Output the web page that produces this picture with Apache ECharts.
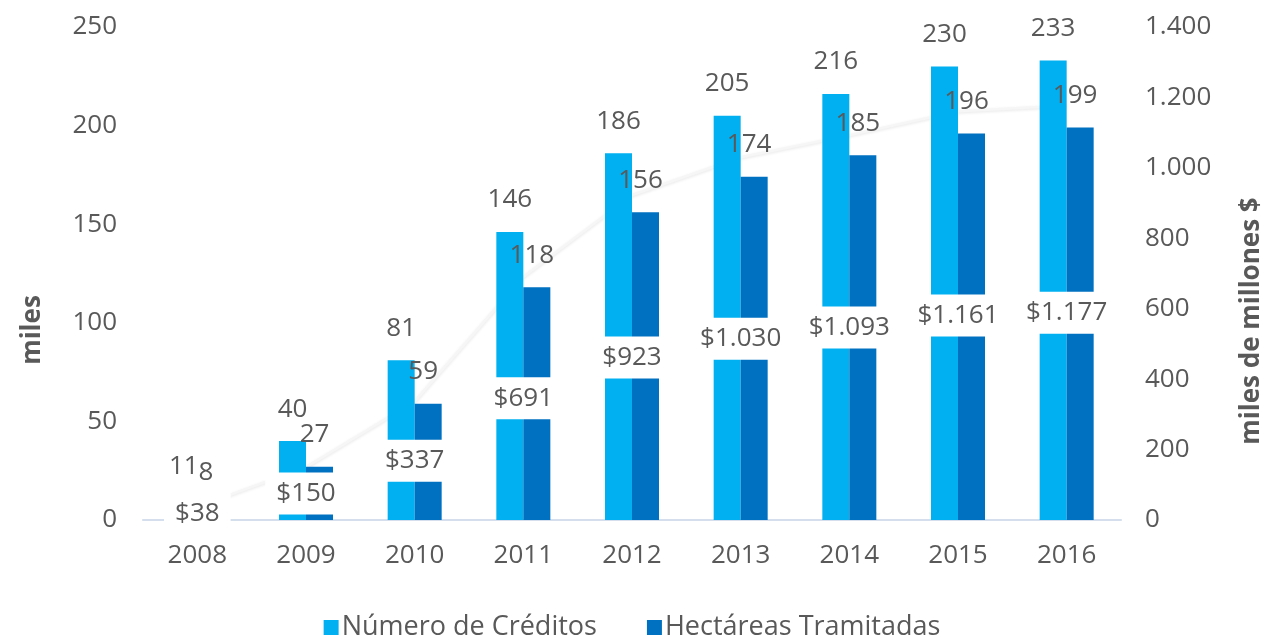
<!DOCTYPE html>
<html>
<head>
<meta charset="utf-8">
<script src="https://cdn.jsdelivr.net/npm/echarts@6/dist/echarts.min.js"></script>
<style>
html,body{margin:0;padding:0;background:#fff;}
#c{width:1264px;height:641px;}
</style>
</head>
<body>
<div id="c"></div>
<script>
const categories = ['2008','2009','2010','2011','2012','2013','2014','2015','2016'];
const creditos = [11, 40, 81, 146, 186, 205, 216, 230, 233];
const hectareas = [8, 27, 59, 118, 156, 174, 185, 196, 199];
const montos = [38, 150, 337, 691, 923, 1030, 1093, 1161, 1177];
const leftTicks = [0, 50, 100, 150, 200, 250];
const rightTicks = [0, 200, 400, 600, 800, 1000, 1200, 1400];

const FONT = '"Open Sans", "Noto Sans", sans-serif';
const TXT = '#595959';
const FS = 26;
function fmtThousands(v){
  return String(v).replace(/\B(?=(\d{3})+(?!\d))/g, '.');
}

const chart = echarts.init(document.getElementById('c'));
chart.setOption({
  animation: false,
  textStyle: {fontFamily: FONT},
  grid: {left: 143, right: 143, top: 27, bottom: 121, containLabel: false},
  legend: {
    top: 609, left: 'center',
    itemWidth: 15, itemHeight: 15, itemGap: 50,
    icon: 'rect',
    textStyle: {fontSize: 27, color: TXT, fontFamily: FONT, padding: [0,0,0,-2]},
    data: ['Número de Créditos', 'Hectáreas Tramitadas']
  },
  xAxis: [{
    type: 'category', data: categories,
    axisLine: {show: true, lineStyle: {color: '#D5DEEC', width: 2}},
    axisTick: {show: false},
    axisLabel: {fontSize: FS, color: TXT, margin: 23, fontFamily: FONT}
  }, {
    type: 'category', data: categories, show: false
  }],
  yAxis: [{
    type: 'value', min: leftTicks[0], max: leftTicks[leftTicks.length-1], interval: 50,
    splitLine: {show: false}, axisLine: {show: false}, axisTick: {show: false},
    axisLabel: {fontSize: FS, color: TXT, margin: 26, fontFamily: FONT}
  }, {
    type: 'value', min: rightTicks[0], max: rightTicks[rightTicks.length-1], interval: 200,
    splitLine: {show: false}, axisLine: {show: false}, axisTick: {show: false},
    axisLabel: {fontSize: FS, color: TXT, margin: 24, fontFamily: FONT,
      formatter: v => fmtThousands(v)}
  }],
  graphic: [{
    type: 'text', rotation: Math.PI/2,
    style: {text: 'miles', font: 'bold 26px ' + FONT, fill: TXT,
      textAlign: 'center', textVerticalAlign: 'middle'},
    x: 33, y: 330
  }, {
    type: 'text', rotation: Math.PI/2,
    style: {text: 'miles de millones $', font: 'bold 26px ' + FONT, fill: TXT,
      textAlign: 'center', textVerticalAlign: 'middle'},
    x: 1252, y: 321
  }],
  series: [{
    name: 'Monto', type: 'line', xAxisIndex: 0, yAxisIndex: 1,
    data: montos, symbol: 'none', z: 1, silent: true,
    lineStyle: {color: '#F6F6F6', width: 2.5, shadowColor: 'rgba(0,0,0,0.10)', shadowBlur: 3, shadowOffsetY: 1}
  }, {
    name: 'Número de Créditos', type: 'bar', xAxisIndex: 0, yAxisIndex: 0,
    data: creditos, barWidth: 27, barGap: '0%', z: 3,
    itemStyle: {color: '#00B0F0'},
    label: {show: true, position: 'top', distance: 19, fontSize: FS, color: TXT, fontFamily: FONT}
  }, {
    name: 'Hectáreas Tramitadas', type: 'bar', xAxisIndex: 0, yAxisIndex: 0,
    data: hectareas, barWidth: 27, z: 3,
    itemStyle: {color: '#0070C0'},
    label: {show: true, position: 'top', distance: 19, offset: [-5, 0], fontSize: FS, color: TXT, fontFamily: FONT}
  }, {
    name: 'MontoLabel', type: 'bar', xAxisIndex: 1, yAxisIndex: 1,
    data: montos, barWidth: 40, silent: true, z: 4,
    itemStyle: {color: 'rgba(0,0,0,0)'},
    label: {show: true, position: 'inside', fontSize: FS, color: TXT, fontFamily: FONT,
      backgroundColor: '#FFFFFF', padding: [9, 11, 7, 11],
      formatter: p => '$' + fmtThousands(p.value)}
  }]
});
</script>
</body>
</html>
